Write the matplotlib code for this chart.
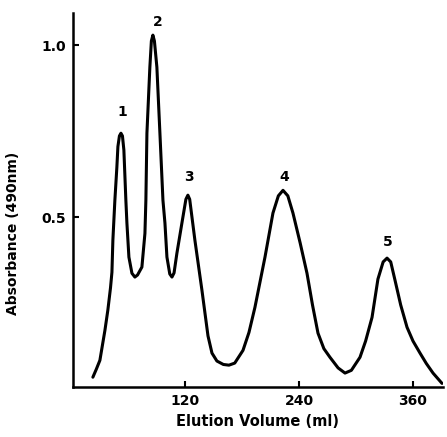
import numpy as np
from matplotlib import pyplot as plt

# Elution profile
volume = [22.4, 26.0, 29.8, 35.1, 38.2, 41.0, 42.5, 43.5, 45.6, 47.7, 48.8, 50.4, 52.0, 53.6,
          55.1, 57.2, 58.3, 60.4, 63.6, 66.7, 69.5, 74.1, 77.3, 78.3, 79.4, 82.5,
          84.1, 85.7, 87.3, 89.9, 93.1, 96.3, 98.4, 100.5, 103.5, 105.8, 108.0,
          111.0, 116.3, 120.5, 122.6, 124.5, 130.0, 137.4, 143.8, 148.0, 153.2, 160.0,
          165.9, 172.0, 180.7, 187.0, 193.3, 203.9, 212.3, 218.0, 222.9, 228.0, 233.4,
          241.0, 248.2, 254.0, 259.8, 266.0, 272.4, 281.0, 288.3, 295.0, 304.1, 310.0,
          316.8, 323.0, 328.5, 332.6, 336.5, 341.0, 347.0, 353.7, 360.0, 367.4, 374.0,
          381.1, 390.6]
absorb = [0.035, 0.058, 0.084, 0.171, 0.230, 0.295, 0.340, 0.433, 0.549, 0.645, 0.705, 0.736,
          0.744, 0.736, 0.695, 0.549, 0.483, 0.384, 0.337, 0.326, 0.332, 0.355, 0.453, 0.549,
          0.744, 0.936, 1.012, 1.029, 1.012, 0.936, 0.744, 0.549, 0.483, 0.384, 0.335, 0.326,
          0.338, 0.395, 0.483, 0.552, 0.564, 0.552, 0.433, 0.288, 0.155, 0.105, 0.082, 0.072,
          0.070, 0.076, 0.113, 0.165, 0.238, 0.384, 0.512, 0.562, 0.578, 0.562, 0.512,
          0.425, 0.337, 0.245, 0.163, 0.118, 0.093, 0.062, 0.047, 0.055, 0.093, 0.140,
          0.209, 0.320, 0.370, 0.381, 0.370, 0.317, 0.245, 0.180, 0.140, 0.105, 0.075,
          0.047, 0.017]

peak_names = ["1", "2", "3", "4", "5"]
peak_vol = [52.0, 85.7, 122.6, 222.9, 332.6]
peak_abs = [0.744, 1.029, 0.564, 0.578, 0.381]
label_offsets = [(1, 21), (5, 13), (1, 18), (1, 13), (1, 16)]  # pixels

fig = plt.figure(figsize=(4.47, 4.37), dpi=100)
ax = fig.add_axes([0.163, 0.114, 0.828, 0.856])

ax.plot(volume, absorb, color="black", lw=2.2, solid_joinstyle="round",
        solid_capstyle="round")

for name, x, y, off in zip(peak_names, peak_vol, peak_abs, label_offsets):
    ax.annotate(name, (x, y), xytext=off, textcoords="offset pixels",
                ha="center", va="center", fontsize=10, fontweight="bold")

ax.set_xlim(1.3, 391.6)
ax.set_ylim(0.006, 1.093)
ax.set_xticks([120, 240, 360])
ax.set_yticks([0.5, 1.0])
ax.set_yticklabels(["0.5", "1.0"])

for side in ["top", "right"]:
    ax.spines[side].set_visible(False)
for side in ["left", "bottom"]:
    ax.spines[side].set_linewidth(1.8)

ax.tick_params(direction="in", length=4, width=1.5, labelsize=10, pad=5)
for lab in ax.get_xticklabels() + ax.get_yticklabels():
    lab.set_fontweight("bold")

ax.set_xlabel("Elution Volume (ml)", fontsize=10.5, fontweight="bold", labelpad=4)
ax.set_ylabel("Absorbance (490nm)", fontsize=10, fontweight="bold")
ax.yaxis.set_label_coords(-0.143, 0.41)

fig.savefig("out.png", dpi=100)
